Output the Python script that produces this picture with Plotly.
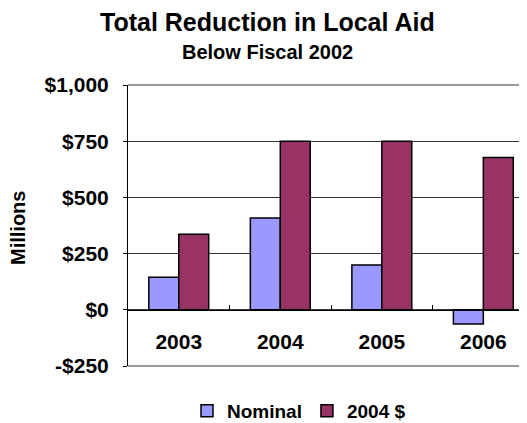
import plotly.graph_objects as go

years = ["2003", "2004", "2005", "2006"]
nominal = [145, 408, 199, -63]
dollars_2004 = [336, 750, 750, 677]
y_tickvals = [-250, 0, 250, 500, 750, 1000]
y_ticktext = ["-$250", "$0", "$250", "$500", "$750", "$1,000"]

FONT = "Liberation Sans, Arial, sans-serif"

# page body has an 8px margin, so the figure is sized/offset accordingly
W, H = 519, 415
L, T, B = 120, 77, 57
PH = H - T - B  # plot height


def py(screen_y):
    """screen y (reference pixels) -> paper y"""
    return (H - B - (screen_y - 8)) / PH


def px(screen_x):
    return (screen_x - 8 - L) / (W - L)


fig = go.Figure()
fig.add_trace(go.Bar(name="Nominal", x=years, y=nominal,
                     marker=dict(color="#9999FF", line=dict(color="black", width=1.5))))
fig.add_trace(go.Bar(name="2004 $", x=years, y=dollars_2004,
                     marker=dict(color="#993366", line=dict(color="black", width=1.5))))

fig.update_layout(
    width=W, height=H,
    margin=dict(l=L, r=0, t=T, b=B, autoexpand=False),
    paper_bgcolor="white", plot_bgcolor="white",
    barmode="group", bargap=0.41, bargroupgap=0,
    font=dict(family=FONT, color="black"),
    showlegend=True,
    legend=dict(orientation="h", xref="container", yref="container",
                x=(299 - 8) / W, xanchor="center",
                y=1 - (411 - 8) / H, yanchor="middle",
                font=dict(size=19, family=FONT, color="black", weight="bold"),
                itemwidth=30, tracegroupgap=0, itemclick=False),
    xaxis=dict(type="category", range=[-0.5, 3.43], anchor="free", position=0.2,
               showline=True, linecolor="black", linewidth=1,
               ticks="inside", tickson="boundaries", ticklen=5, tickcolor="black",
               showgrid=False, ticklabelstandoff=13,
               tickfont=dict(size=21, family=FONT, color="black", weight="bold")),
    yaxis=dict(range=[-250, 1000], tickvals=y_tickvals, ticktext=y_ticktext,
               showline=True, linecolor="black", linewidth=1,
               ticks="outside", ticklen=4, tickcolor="black",
               showgrid=True, gridcolor="#333333", gridwidth=1, zeroline=False,
               ticklabelstandoff=10,
               tickfont=dict(size=21, family=FONT, color="black", weight="bold")),
    shapes=[
        dict(type="line", xref="paper", yref="paper", x0=0, x1=1, y0=1, y1=1,
             line=dict(color="#999999", width=2), layer="above"),
        dict(type="line", xref="paper", yref="paper", x0=0, x1=1, y0=0, y1=0,
             line=dict(color="#999999", width=2), layer="above"),
    ],
    annotations=[
        dict(text="<b>Total Reduction in Local Aid</b>", xref="paper", yref="paper",
             x=px(267), y=py(22), xanchor="center", yanchor="middle",
             showarrow=False, font=dict(size=25, family=FONT, color="black")),
        dict(text="<b>Below Fiscal 2002</b>", xref="paper", yref="paper",
             x=px(267), y=py(52), xanchor="center", yanchor="middle",
             showarrow=False, font=dict(size=20, family=FONT, color="black")),
        dict(text="<b>Millions</b>", xref="paper", yref="paper",
             x=px(17.5), y=py(228.5), xanchor="center", yanchor="middle",
             textangle=-90, showarrow=False, font=dict(size=20, family=FONT, color="black")),
    ],
)

fig.write_html("out.html")
